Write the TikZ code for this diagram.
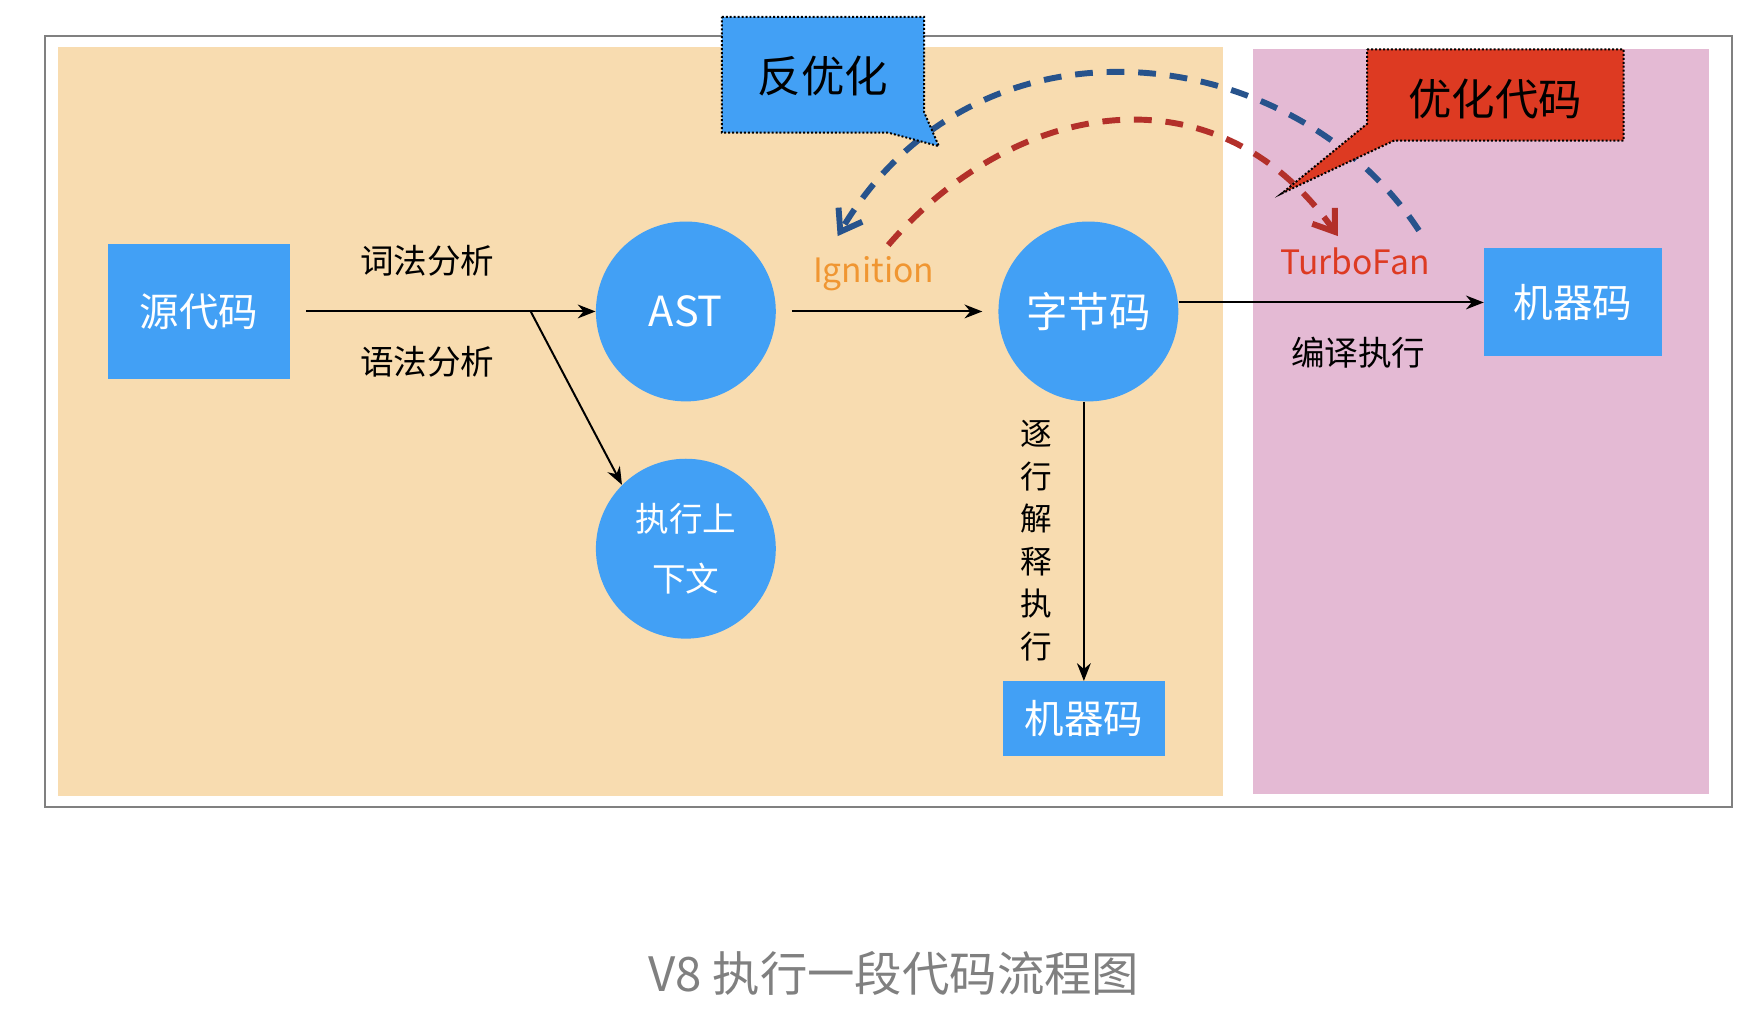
\documentclass[tikz,border=0pt]{standalone}
\usepackage{fontspec}
\setmainfont{Noto Sans CJK SC}
\usetikzlibrary{arrows.meta}
\definecolor{bgorange}{HTML}{F8DCB0}
\definecolor{bgpink}{HTML}{E4BAD4}
\definecolor{nodeblue}{HTML}{42A0F5}
\definecolor{deoptblue}{HTML}{27538C}
\definecolor{optred}{HTML}{B3302A}
\definecolor{calloutred}{HTML}{DD3A22}
\begin{document}
\begin{tikzpicture}[x=0.02cm,y=-0.02cm]
	\tikzstyle{every node}=[font=\fontsize{17}{20}\selectfont]
	\tikzstyle{codebox}=[fill=nodeblue,text=white,inner sep=0pt,font=\fontsize{20}{24}\selectfont]
	\tikzstyle{stage}=[circle,fill=nodeblue,text=white,minimum size=160*0.02cm,inner sep=0pt,font=\fontsize{21}{24}\selectfont]
	\tikzstyle{relation}=[-{Stealth[length=9pt,width=7pt]},line width=1pt]
	\tikzstyle{jit}=[line width=3pt,dash pattern=on 9pt off 7pt,-{Straight Barb[length=10pt,width=14pt]}]
	\tikzstyle{callout}=[draw=black,line width=1pt,densely dotted]

	\useasboundingbox (0,0) rectangle (1560,900);
	\draw[gray,line width=1pt] (40,32) rectangle (1540,718);
	\fill[bgorange] (52,42) rectangle (1088,708);
	\fill[bgpink] (1114,44) rectangle (1520,706);

	\node[codebox,minimum width=162*0.02cm,minimum height=120*0.02cm] (src) at (177,277) {源代码};
	\node[stage] (ast) at (610,277) {AST};
	\node[stage,align=center,font=\fontsize{17}{30}\selectfont] (ctx) at (610,488) {执行上\\下文};
	\node[stage] (bc) at (968,277) {字节码};
	\node[codebox,minimum width=144*0.02cm,minimum height=66*0.02cm] (mc1) at (964,639) {机器码};
	\node[codebox,minimum width=158*0.02cm,minimum height=96*0.02cm] (mc2) at (1399,269) {机器码};

	\coordinate (fork) at (472,277);
	\draw[relation] (src.east) ++(14,0) -- (ast.west);
	\draw[relation] (fork) -- (ctx.north west);
	\draw[relation] (ast.east) ++(14,0) -- ([xshift=-14*0.02cm]bc.west);
	\draw[relation] (bc.east |- mc2.west) -- (mc2.west);
	\draw[relation] (bc.south) ++(-4,0) -- ([xshift=-4*0.02cm]bc.south |- mc1.north);

	\node (lex) at (380,232) {词法分析};
	\node (syn) at (380,322) {语法分析};
	\node[text={rgb,255:red,240;green,150;blue,50}] (ign) at (777,243) {Ignition};
	\node[text=calloutred] (tf) at (1205,232) {TurboFan};
	\node (comp) at (1208,314) {编译执行};
	\node[align=center,font=\fontsize{16}{21.5}\selectfont] (interp) at (922,481) {逐\\行\\解\\释\\执\\行};

	\draw[jit,deoptblue] (1262,205) .. controls (1150,35) and (870,0) .. (745,210);
	\draw[jit,optred] (790,218) .. controls (900,90) and (1080,55) .. (1190,210);

	\draw[callout,fill=nodeblue] (642,15) -- (822,15) -- (822,100) -- (835,130) -- (790,118) -- (642,118) -- cycle;
	\node[font=\fontsize{22}{26}\selectfont] (deopt) at (732,68) {反优化};
	\draw[callout,fill=calloutred] (1216,44) -- (1444,44) -- (1444,125) -- (1240,125) -- (1140,172) -- (1216,110) -- cycle;
	\node[font=\fontsize{22}{26}\selectfont] (opt) at (1330,88) {优化代码};

	\node[text=gray,font=\fontsize{24}{28}\selectfont] (title) at (795,866) {V8 执行一段代码流程图};
\end{tikzpicture}
\end{document}
